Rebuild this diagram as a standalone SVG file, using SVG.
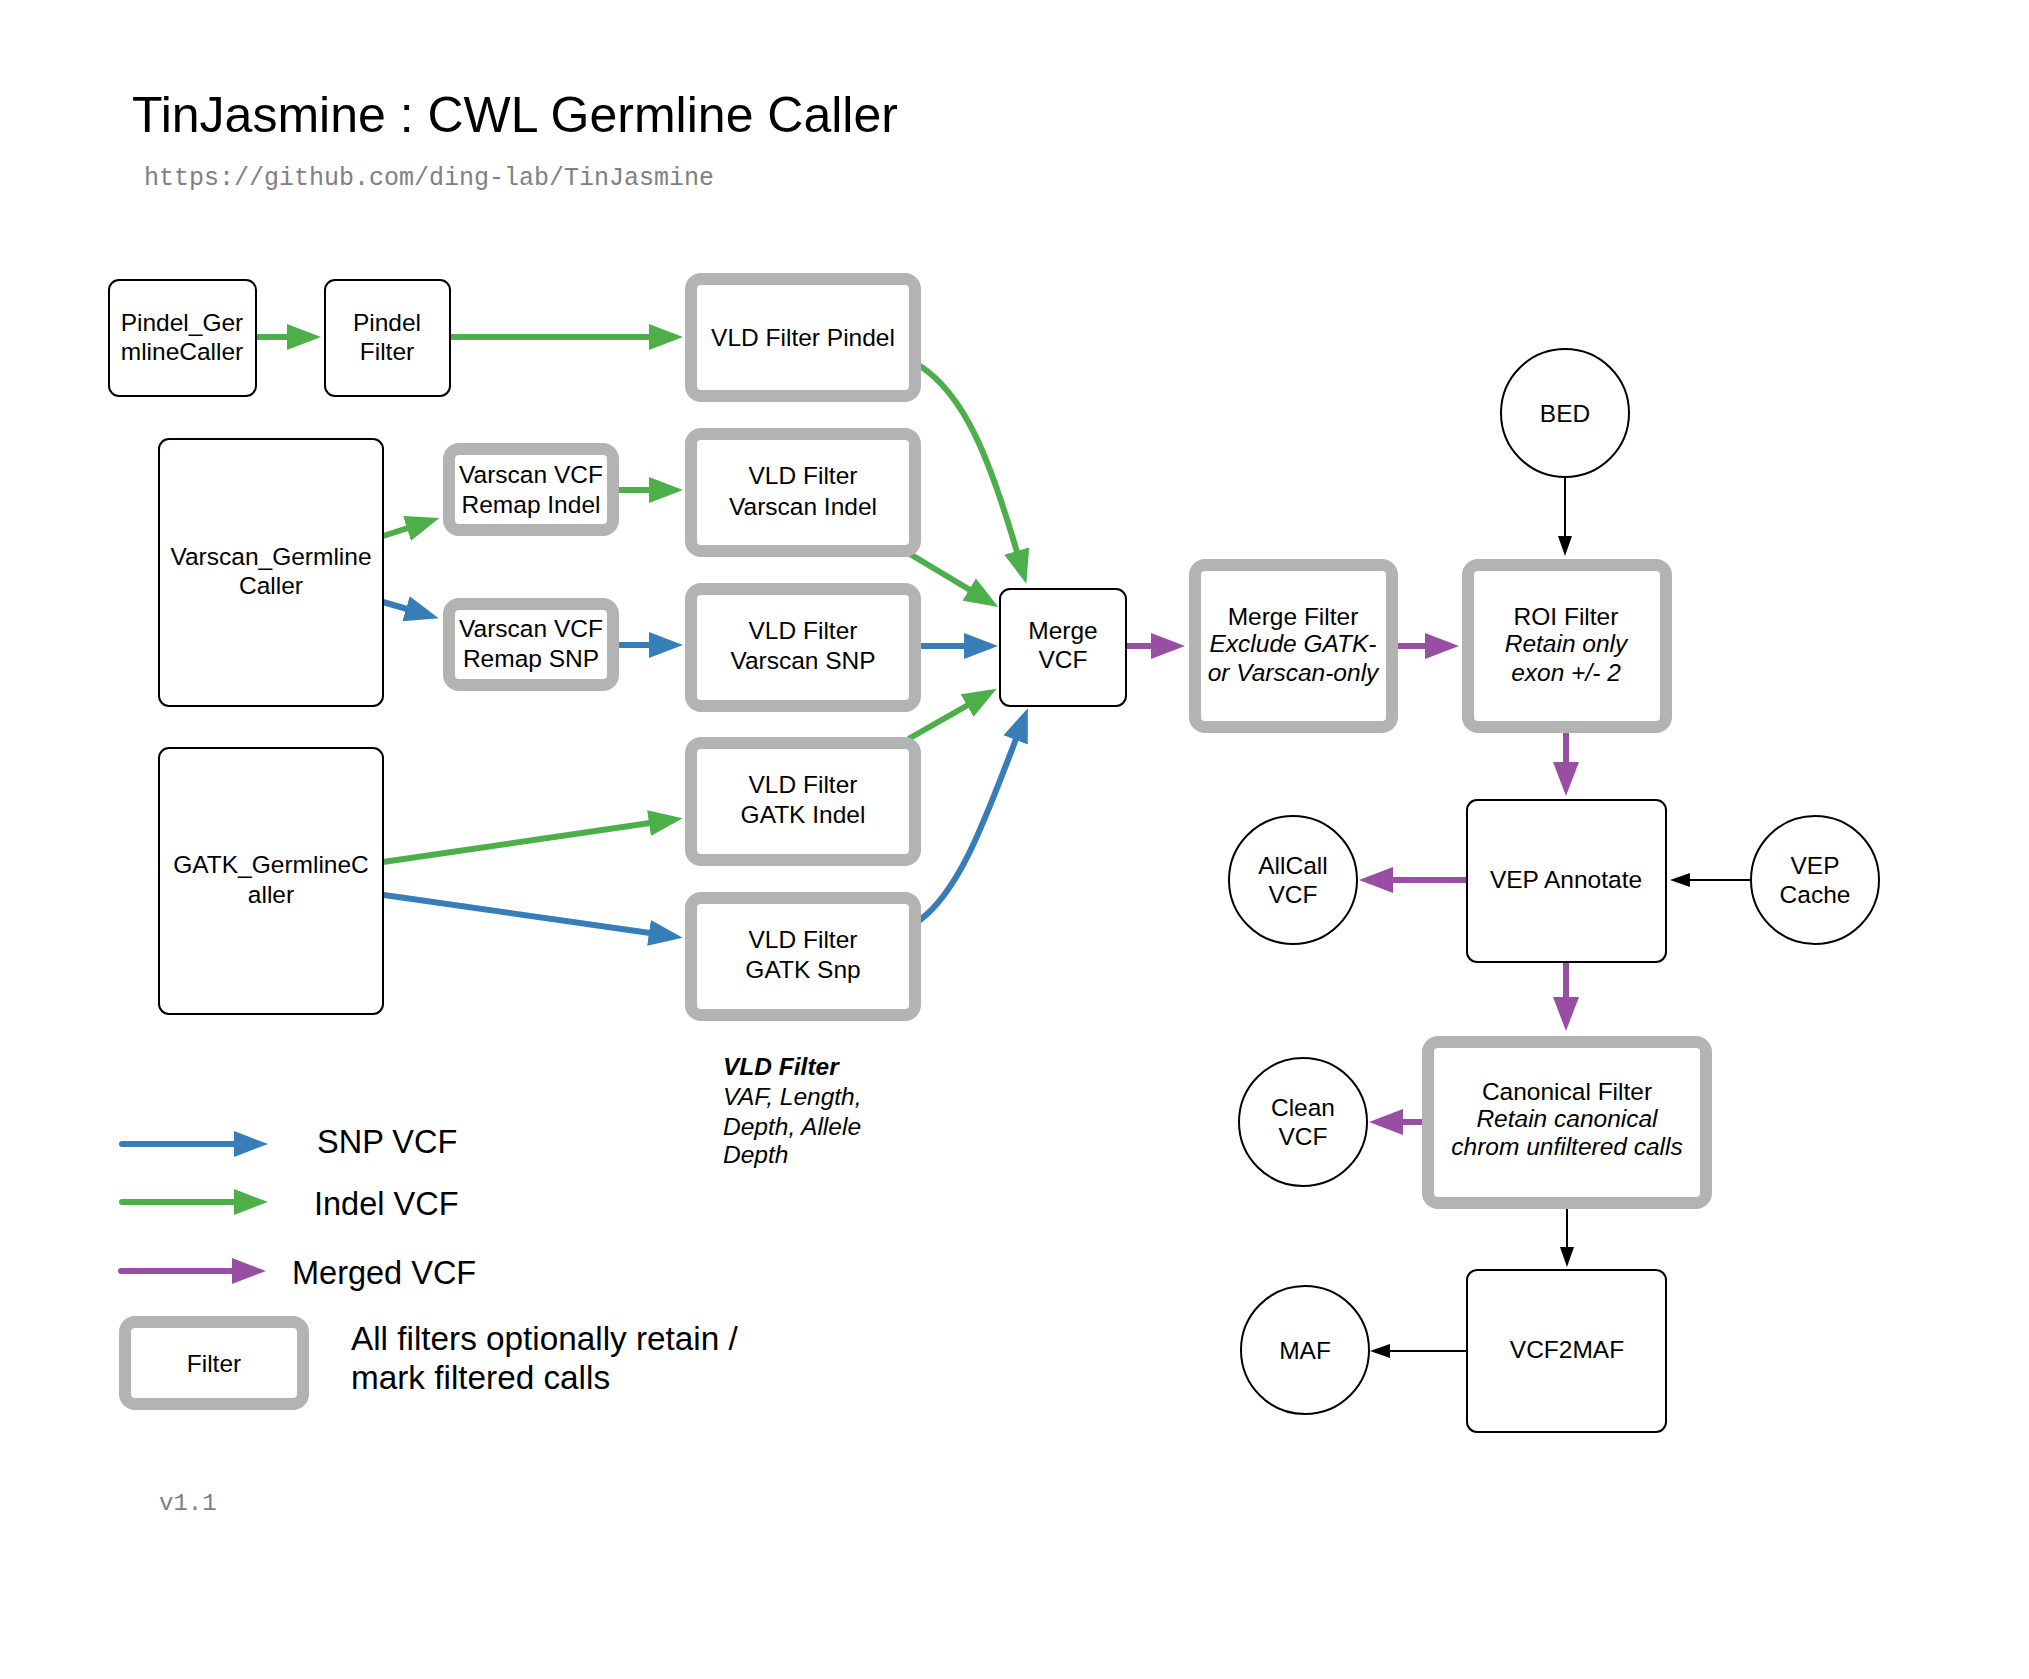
<svg xmlns="http://www.w3.org/2000/svg" width="2029" height="1679" viewBox="0 0 2029 1679">
<defs>
<style>
text{font-family:"Liberation Sans",Arial,Helvetica,sans-serif;fill:#000;}
.t{font-size:24.5px;text-anchor:middle;}
.it{font-style:italic;}
.box{fill:#fff;stroke:#000;stroke-width:2;}
.flt{fill:#fff;stroke:#b3b3b3;stroke-width:12;}
.circ{fill:#fff;stroke:#000;stroke-width:2;}
.g{fill:none;stroke:#4daf4a;stroke-width:6;stroke-linecap:round;marker-end:url(#ag);}
.b{fill:none;stroke:#377eb8;stroke-width:6;stroke-linecap:round;marker-end:url(#ab);}
.p{fill:none;stroke:#984ea3;stroke-width:6;stroke-linecap:round;marker-end:url(#ap);}
.k{fill:none;stroke:#000;stroke-width:2;marker-end:url(#ak);}
.mono{font-family:"Liberation Mono","Courier New",monospace;fill:#808080;}
</style>
<marker id="ag" markerUnits="userSpaceOnUse" viewBox="0 0 34 26" refX="1" refY="13" markerWidth="34" markerHeight="26" orient="auto"><path d="M0,0 L34,13 L0,26 Z" fill="#4daf4a"/></marker>
<marker id="ab" markerUnits="userSpaceOnUse" viewBox="0 0 34 26" refX="1" refY="13" markerWidth="34" markerHeight="26" orient="auto"><path d="M0,0 L34,13 L0,26 Z" fill="#377eb8"/></marker>
<marker id="ap" markerUnits="userSpaceOnUse" viewBox="0 0 34 26" refX="1" refY="13" markerWidth="34" markerHeight="26" orient="auto"><path d="M0,0 L34,13 L0,26 Z" fill="#984ea3"/></marker>
<marker id="ak" markerUnits="userSpaceOnUse" viewBox="0 0 20 14" refX="1" refY="7" markerWidth="20" markerHeight="14" orient="auto"><path d="M0,0 L20,7 L0,14 Z" fill="#000"/></marker>
</defs>
<rect width="2029" height="1679" fill="#fff"/>

<g id="title">
<text x="132" y="132" font-size="50">TinJasmine : CWL Germline Caller</text>
<text class="mono" x="144" y="185" font-size="25">https://github.com/ding-lab/TinJasmine</text>
</g>

<g id="connectors">
<path class="g" d="M256,337 L288,337"/>
<path class="g" d="M450,337 L650,337"/>
<path class="g" d="M383,536 L408,528"/>
<path class="b" d="M383,602 L407,609"/>
<path class="g" d="M619,490 L650,490"/>
<path class="b" d="M620,645 L650,645"/>
<path class="g" d="M383,862 L650,823"/>
<path class="b" d="M384,895 L650,933"/>
<path class="g" d="M920,366 C965,395 990,460 1017,552"/>
<path class="g" d="M910,554 L970,590"/>
<path class="b" d="M921,646 L965,646"/>
<path class="g" d="M910,738 L968,705"/>
<path class="b" d="M920,920 C960,890 985,820 1016,739"/>
<path class="p" d="M1126,646 L1152,646"/>
<path class="p" d="M1398,646 L1426,646"/>
<path class="k" d="M1565,478 L1565,537"/>
<path class="p" d="M1566,732 L1566,763"/>
<path class="p" d="M1467,880 L1392,880"/>
<path class="k" d="M1751,880 L1689,880"/>
<path class="p" d="M1566,961 L1566,998"/>
<path class="p" d="M1422,1122 L1402,1122"/>
<path class="k" d="M1567,1209 L1567,1248"/>
<path class="k" d="M1467,1351 L1389,1351"/>
</g>

<g id="pindel_caller"><rect class="box" x="109" y="280" width="147" height="116" rx="10"/><text class="t" x="182" y="331">Pindel_Ger</text><text class="t" x="182" y="360">mlineCaller</text></g>
<g id="pindel_filter"><rect class="box" x="325" y="280" width="125" height="116" rx="10"/><text class="t" x="387" y="331">Pindel</text><text class="t" x="387" y="360">Filter</text></g>
<g id="vld_pindel"><rect class="flt" x="691" y="279" width="224" height="117" rx="10"/><text class="t" x="803" y="346">VLD Filter Pindel</text></g>

<g id="varscan_caller"><rect class="box" x="159" y="439" width="224" height="267" rx="10"/><text class="t" x="271" y="565">Varscan_Germline</text><text class="t" x="271" y="594">Caller</text></g>
<g id="remap_indel"><rect class="flt" x="449" y="449" width="164" height="81" rx="10"/><text class="t" x="531" y="483">Varscan VCF</text><text class="t" x="531" y="513">Remap Indel</text></g>
<g id="remap_snp"><rect class="flt" x="449" y="604" width="164" height="81" rx="10"/><text class="t" x="531" y="637">Varscan VCF</text><text class="t" x="531" y="667">Remap SNP</text></g>
<g id="vld_varscan_indel"><rect class="flt" x="691" y="434" width="224" height="117" rx="10"/><text class="t" x="803" y="484">VLD Filter</text><text class="t" x="803" y="515">Varscan Indel</text></g>
<g id="vld_varscan_snp"><rect class="flt" x="691" y="589" width="224" height="117" rx="10"/><text class="t" x="803" y="639">VLD Filter</text><text class="t" x="803" y="669">Varscan SNP</text></g>

<g id="gatk_caller"><rect class="box" x="159" y="748" width="224" height="266" rx="10"/><text class="t" x="271" y="873">GATK_GermlineC</text><text class="t" x="271" y="903">aller</text></g>
<g id="vld_gatk_indel"><rect class="flt" x="691" y="743" width="224" height="117" rx="10"/><text class="t" x="803" y="793">VLD Filter</text><text class="t" x="803" y="823">GATK Indel</text></g>
<g id="vld_gatk_snp"><rect class="flt" x="691" y="898" width="224" height="117" rx="10"/><text class="t" x="803" y="948">VLD Filter</text><text class="t" x="803" y="978">GATK Snp</text></g>

<g id="merge_vcf"><rect class="box" x="1000" y="589" width="126" height="117" rx="10"/><text class="t" x="1063" y="639">Merge</text><text class="t" x="1063" y="668">VCF</text></g>
<g id="merge_filter"><rect class="flt" x="1195" y="565" width="197" height="162" rx="10"/><text class="t" x="1293" y="625">Merge Filter</text><text class="t it" x="1293" y="652">Exclude GATK-</text><text class="t it" x="1293" y="681">or Varscan-only</text></g>
<g id="roi_filter"><rect class="flt" x="1468" y="565" width="198" height="162" rx="10"/><text class="t" x="1566" y="625">ROI Filter</text><text class="t it" x="1566" y="652">Retain only</text><text class="t it" x="1566" y="681">exon +/- 2</text></g>
<g id="bed"><circle class="circ" cx="1565" cy="413" r="64"/><text class="t" x="1565" y="422">BED</text></g>

<g id="vep_annotate"><rect class="box" x="1467" y="800" width="199" height="162" rx="10"/><text class="t" x="1566" y="888">VEP Annotate</text></g>
<g id="allcall_vcf"><circle class="circ" cx="1293" cy="880" r="64"/><text class="t" x="1293" y="874">AllCall</text><text class="t" x="1293" y="903">VCF</text></g>
<g id="vep_cache"><circle class="circ" cx="1815" cy="880" r="64"/><text class="t" x="1815" y="874">VEP</text><text class="t" x="1815" y="903">Cache</text></g>

<g id="canonical_filter"><rect class="flt" x="1428" y="1042" width="278" height="161" rx="10"/><text class="t" x="1567" y="1100">Canonical Filter</text><text class="t it" x="1567" y="1127">Retain canonical</text><text class="t it" x="1567" y="1155">chrom unfiltered calls</text></g>
<g id="clean_vcf"><circle class="circ" cx="1303" cy="1122" r="64"/><text class="t" x="1303" y="1116">Clean</text><text class="t" x="1303" y="1145">VCF</text></g>
<g id="vcf2maf"><rect class="box" x="1467" y="1270" width="199" height="162" rx="10"/><text class="t" x="1567" y="1358">VCF2MAF</text></g>
<g id="maf"><circle class="circ" cx="1305" cy="1350" r="64"/><text class="t" x="1305" y="1359">MAF</text></g>

<g id="vld_note">
<text x="723" y="1075" font-size="24.5" font-weight="bold" font-style="italic">VLD Filter</text>
<text x="723" y="1105" font-size="24.5" font-style="italic">VAF, Length,</text>
<text x="723" y="1135" font-size="24.5" font-style="italic">Depth, Allele</text>
<text x="723" y="1163" font-size="24.5" font-style="italic">Depth</text>
</g>

<g id="legend">
<path class="b" d="M122,1144 L235,1144"/>
<text x="317" y="1153" font-size="32.5">SNP VCF</text>
<path class="g" d="M122,1202 L235,1202"/>
<text x="314" y="1215" font-size="32.5">Indel VCF</text>
<path class="p" d="M121,1271 L233,1271"/>
<text x="292" y="1284" font-size="32.5">Merged VCF</text>
<rect class="flt" x="125" y="1322" width="178" height="82" rx="10"/>
<text class="t" x="214" y="1372">Filter</text>
<text x="351" y="1350" font-size="33.3">All filters optionally retain /</text>
<text x="351" y="1389" font-size="33.3">mark filtered calls</text>
<text class="mono" x="159" y="1510" font-size="24">v1.1</text>
</g>
</svg>
